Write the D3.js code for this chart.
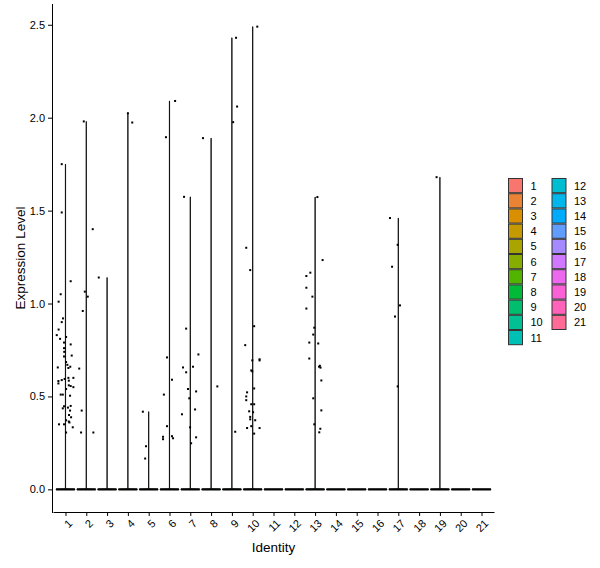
<!DOCTYPE html>
<html>
<head>
<meta charset="utf-8">
<script src="https://cdn.jsdelivr.net/npm/d3@7"></script>
<style>
  body { margin: 0; background: #fff; }
  svg { font-family: "Liberation Sans", Arial, sans-serif; }
</style>
</head>
<body>
<svg id="chart" width="600" height="568"></svg>
<script>
// clusters on the x axis
const identities = ['1','2','3','4','5','6','7','8','9','10','11','12','13','14','15','16','17','18','19','20','21'];
const yTicks = [0, 0.5, 1, 1.5, 2, 2.5];

// non-zero cells: cluster, expression level, jitter (fraction of a category step)
const cellIdent = [
  '1','1','1','1','1','1','1','1','1','1','1','1','1','1','1','1','1','1','1','1',
  '1','1','1','1','1','1','1','1','1','1','1','1','1','1','1','1','1','1','1','1',
  '1','1','1','1','1','1','1','1','1','1',
  '2','2','2','2','2','2','2','2','2',
  '3',
  '4','4',
  '5','5','5',
  '6','6','6','6','6','6','6','6','6','6',
  '7','7','7','7','7','7','7','7','7','7','7','7','7','7',
  '8','8',
  '9','9','9','9',
  '10','10','10','10','10','10','10','10','10','10','10','10','10','10','10','10','10','10','10','10',
  '10','10','10','10','10',
  '13','13','13','13','13','13','13','13','13','13','13','13','13','13','13','13','13','13','13','13','13',
  '17','17','17','17','17','17',
  '19'
];
const cellExpr = [
  1.75, 1.49, 1.12, 1.05, 1.01, 0.92, 0.90, 0.86, 0.83, 0.82, 0.81, 0.78, 0.79, 0.76, 0.74, 0.72, 0.715, 0.685, 0.67, 0.66,
  0.656, 0.653, 0.60, 0.594, 0.60, 0.585, 0.583, 0.588, 0.57, 0.56, 0.556, 0.55, 0.54, 0.51, 0.51, 0.504, 0.436, 0.447, 0.449, 0.44,
  0.424, 0.40, 0.388, 0.372, 0.365, 0.36, 0.35, 0.35, 0.334, 0.306,
  1.98, 1.40, 1.064, 1.037, 0.96, 0.65, 0.424, 0.306, 0.306,
  1.14,
  2.024, 1.974,
  0.418, 0.232, 0.166,
  2.09, 1.895, 0.71, 0.59, 0.51, 0.34, 0.283, 0.27, 0.286, 0.275,
  1.574, 0.865, 0.726, 0.656, 0.66, 0.63, 0.54, 0.527, 0.49, 0.43, 0.404, 0.334, 0.28, 0.248,
  1.89, 0.554,
  2.43, 2.06, 1.976, 0.31,
  2.49, 1.30, 1.18, 0.878, 0.776, 0.70, 0.694, 0.694, 0.64, 0.635, 0.543, 0.522, 0.50, 0.48, 0.458, 0.458, 0.42, 0.415, 0.39, 0.377,
  0.372, 0.34, 0.33, 0.33, 0.30,
  1.573, 1.234, 1.166, 1.148, 1.085, 1.037, 0.973, 0.87, 0.833, 0.79, 0.785, 0.704, 0.665, 0.66, 0.655, 0.586, 0.49, 0.425, 0.35, 0.326, 0.307,
  1.46, 1.316, 1.198, 0.99, 0.93, 0.554,
  1.68
];
const cellJitter = [
  -0.18, -0.18, 0.25, -0.23, -0.33, -0.12, -0.18, -0.33, -0.42, 0.03, -0.26, 0.25, -0.07, -0.07, -0.06, 0.30, -0.07, 0.03, 0.09, 0.23,
  -0.37, 0.14, 0.38, -0.04, 0.14, 0.16, -0.34, -0.18, -0.34, 0.16, 0.25, 0.38, 0.03, -0.23, -0.13, 0.22, -0.13, -0.07, 0.25, 0.12,
  0.22, 0.17, 0.27, 0.03, 0.16, 0.19, -0.31, -0.07, 0.35, 0.03,
  -0.12, 0.31, -0.07, 0.07, -0.17, -0.34, -0.22, -0.25, 0.34,
  -0.40,
  0.00, 0.21,
  -0.28, -0.13, -0.17,
  0.27, -0.17, -0.12, 0.12, -0.27, -0.12, -0.31, -0.31, 0.12, 0.17,
  -0.30, -0.20, 0.39, -0.35, 0.13, -0.20, -0.11, 0.28, -0.05, 0.23, -0.40, -0.01, 0.28, 0.04,
  -0.39, 0.30,
  0.20, 0.25, 0.06, 0.16,
  0.22, -0.31, -0.12, 0.07, -0.36, 0.33, 0.33, -0.02, -0.07, -0.02, 0.07, -0.27, -0.31, -0.31, -0.07, 0.07, -0.17, 0.02, -0.12, -0.12,
  0.12, -0.07, -0.27, 0.33, 0.07,
  0.11, 0.36, -0.23, -0.42, -0.42, -0.13, -0.42, -0.04, -0.09, -0.28, 0.15, -0.28, 0.23, 0.19, 0.26, 0.30, -0.09, 0.30, -0.04, 0.25, 0.20,
  -0.40, -0.03, -0.30, 0.08, -0.16, -0.03,
  -0.16
];

// ggplot default hue palette (R hcl = polar CIELUV)
function hclLuv(h, c, l) {
  const hr = h * Math.PI / 180;
  const U = c * Math.cos(hr), V = c * Math.sin(hr);
  const Xn = 95.047, Yn = 100, Zn = 108.883;
  const un = 4 * Xn / (Xn + 15 * Yn + 3 * Zn), vn = 9 * Yn / (Xn + 15 * Yn + 3 * Zn);
  const Y = l > 8 ? Yn * Math.pow((l + 16) / 116, 3) : Yn * l / 903.3;
  const u = U / (13 * l) + un, v = V / (13 * l) + vn;
  const X = 9 * Y * u / (4 * v);
  const Z = -X / 3 - 5 * Y + 3 * Y / v;
  const xx = X / 100, yy = Y / 100, zz = Z / 100;
  const lin = [
    3.240479 * xx - 1.537150 * yy - 0.498535 * zz,
    -0.969256 * xx + 1.875992 * yy + 0.041556 * zz,
    0.055648 * xx - 0.204043 * yy + 1.057311 * zz
  ];
  const g = lin.map(function(t) {
    t = t > 0.00304 ? 1.055 * Math.pow(t, 1 / 2.4) - 0.055 : 12.92 * t;
    return Math.round(255 * Math.max(0, Math.min(1, t)));
  });
  return d3.rgb(g[0], g[1], g[2]).formatHex();
}
const n = identities.length;
const colors = d3.scaleOrdinal()
  .domain(identities)
  .range(identities.map((d, i) => hclLuv(15 + 360 / n * i, 100, 65)));

const svg = d3.select('#chart');

const x = d3.scalePoint()
  .domain(identities)
  .range([53, 494])
  .padding(0.6);
const step = x.step();

const yMax = d3.max(cellExpr);
const y = d3.scaleLinear()
  .domain([-0.05 * yMax, yMax * 1.05])
  .range([512.5, 3.5]);

// violins: flat at zero, hair-line up to the max
const vg = svg.append('g');
identities.forEach(function(id) {
  const vals = cellExpr.filter((v, i) => cellIdent[i] === id);
  const top = vals.length ? d3.max(vals) : 0;
  const cx = x(id), y0 = y(0), half = 0.45 * step;
  const p = d3.path();
  p.moveTo(cx - half, y0 + 0.4);
  p.lineTo(cx + half, y0 + 0.4);
  p.lineTo(cx + half, y0 - 0.4);
  if (top > 0) {
    p.lineTo(cx + 0.1, y0 - 0.6);
    p.lineTo(cx + 0.1, y(top));
    p.lineTo(cx - 0.1, y(top));
    p.lineTo(cx - 0.1, y0 - 0.6);
  }
  p.lineTo(cx - half, y0 - 0.4);
  p.closePath();
  vg.append('path')
    .attr('d', p.toString())
    .attr('fill', colors(id))
    .attr('stroke', '#000')
    .attr('stroke-width', 0.8)
    .attr('stroke-linejoin', 'miter');
  // zero-valued cells pile up into a solid bar along the base
  vg.append('line')
    .attr('x1', cx - half)
    .attr('x2', cx + half)
    .attr('y1', y0)
    .attr('y2', y0)
    .attr('stroke', '#000')
    .attr('stroke-width', 2);
});

// jittered cells
svg.append('g')
  .selectAll('rect')
  .data(cellExpr)
  .enter()
  .append('rect')
  .attr('x', (d, i) => x(cellIdent[i]) + cellJitter[i] * step - 1)
  .attr('y', d => y(d) - 1)
  .attr('width', 2)
  .attr('height', 2)
  .attr('fill', '#000');

// axes
const gx = svg.append('g')
  .attr('transform', 'translate(0,512)')
  .call(d3.axisBottom(x).tickSize(4).tickSizeOuter(0));
gx.selectAll('text')
  .attr('x', 0)
  .attr('y', 0)
  .attr('dy', '0.72em')
  .attr('text-anchor', 'end')
  .attr('transform', 'translate(1.5,6.5) rotate(-45)');

const gy = svg.append('g')
  .attr('transform', 'translate(52,0)')
  .call(d3.axisLeft(y).tickValues(yTicks).tickFormat(d3.format('.1f')).tickSize(4).tickPadding(3).tickSizeOuter(0));

[gx, gy].forEach(function(g) {
  g.selectAll('text').attr('font-size', 11).attr('fill', '#000').attr('font-family', null);
  g.selectAll('line, path').attr('stroke', '#000');
  g.attr('font-family', null);
});

// axis titles
svg.append('text')
  .attr('x', 273.5)
  .attr('y', 551.5)
  .attr('text-anchor', 'middle')
  .attr('font-size', 13.5)
  .text('Identity');

svg.append('text')
  .attr('transform', 'translate(24.5,258) rotate(-90)')
  .attr('text-anchor', 'middle')
  .attr('font-size', 13.5)
  .text('Expression Level');

// legend, two columns
const rowH = 15.2;
const lg = svg.append('g').attr('transform', 'translate(508,178)');
identities.forEach(function(id, i) {
  const col = i < 11 ? 0 : 1;
  const row = i < 11 ? i : i - 11;
  const g = lg.append('g').attr('transform', `translate(${col * 43.5},${row * rowH})`);
  g.append('rect')
    .attr('x', 0.5)
    .attr('y', 0.5)
    .attr('width', 14)
    .attr('height', rowH - 1)
    .attr('fill', colors(id))
    .attr('stroke', '#333')
    .attr('stroke-width', 1);
  g.append('text')
    .attr('x', 22.5)
    .attr('y', rowH / 2)
    .attr('dy', '0.36em')
    .attr('font-size', 11)
    .text(id);
});
</script>
</body>
</html>
